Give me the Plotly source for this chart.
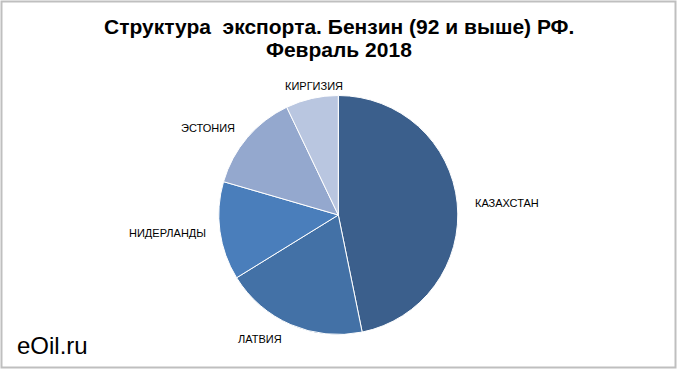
import plotly.graph_objects as go

countries = ["КАЗАХСТАН", "ЛАТВИЯ", "НИДЕРЛАНДЫ", "ЭСТОНИЯ", "КИРГИЗИЯ"]
shares = [46.8, 19.4, 13.3, 13.4, 7.1]
colors = ["#3B5F8C", "#4371A6", "#4A7EBB", "#94A8CE", "#B9C6E0"]
title_lines = ["Структура\u00a0 экспорта. Бензин (92 и выше) РФ.", "Февраль 2018"]

W, H = 680, 374

fig = go.Figure(go.Pie(
    labels=countries,
    values=shares,
    sort=False,
    direction="clockwise",
    rotation=0,
    textinfo="none",
    hoverinfo="label+percent",
    marker=dict(colors=colors, line=dict(color="#FFFFFF", width=1)),
    domain=dict(x=[218.8 / W, 457.8 / W], y=[39.5 / H, 278.5 / H]),
    showlegend=False,
))

# label positions (pixel coords from top-left)
label_pos = {
    "КАЗАХСТАН": (507, 203),
    "ЛАТВИЯ": (260, 338.5),
    "НИДЕРЛАНДЫ": (167, 233),
    "ЭСТОНИЯ": (208, 128),
    "КИРГИЗИЯ": (314, 86),
}
annotations = []
for name in countries:
    px, py = label_pos[name]
    annotations.append(dict(
        x=px / W, y=1 - py / H, xref="paper", yref="paper",
        text=name, showarrow=False, xanchor="center", yanchor="middle",
        font=dict(family="Liberation Sans, Arial", size=11, color="#000000"),
    ))

for line, cy in zip(title_lines, [26, 50]):
    annotations.append(dict(
        x=339 / W, y=1 - cy / H, xref="paper", yref="paper",
        text="<b>" + line + "</b>",
        showarrow=False, xanchor="center", yanchor="middle", align="center",
        font=dict(family="Liberation Sans, Arial", size=21, color="#000000"),
    ))
annotations.append(dict(
    x=15 / W, y=1 - 345 / H, xref="paper", yref="paper",
    text="eOil.ru", showarrow=False, xanchor="left", yanchor="middle",
    font=dict(family="Liberation Sans, Arial", size=24, color="#000000"),
))

fig.update_layout(
    width=W, height=H,
    margin=dict(l=0, r=0, t=0, b=0),
    paper_bgcolor="#FFFFFF",
    plot_bgcolor="#FFFFFF",
    annotations=annotations,
    shapes=[dict(
        type="rect", xref="paper", yref="paper",
        x0=1.5 / W, x1=675.5 / W, y0=1 - 367.5 / H, y1=1 - 1.5 / H,
        line=dict(color="#BFBFBF", width=2), fillcolor="rgba(0,0,0,0)",
    )],
)

fig.write_html(
    "out.html",
    config={"displayModeBar": False},
    post_script="document.body.style.margin='0';document.body.style.padding='0';",
)
